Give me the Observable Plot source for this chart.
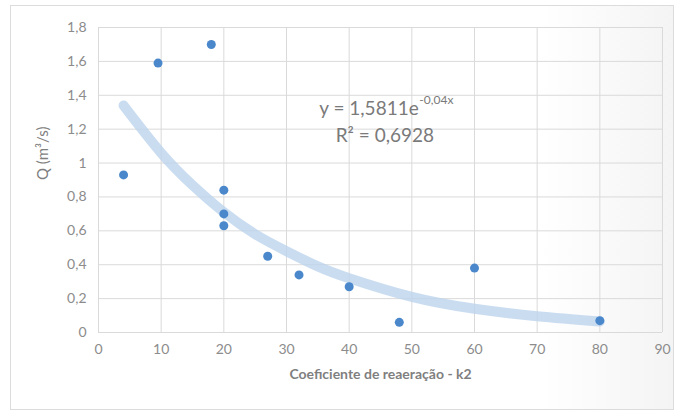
<!DOCTYPE html>
<html><head><meta charset="utf-8">
<script src="https://cdn.jsdelivr.net/npm/d3@7"></script>
<script src="https://cdn.jsdelivr.net/npm/@observablehq/plot@0.6"></script>
<style>
html,body{margin:0;padding:0;background:#fff;}
#wrap{position:relative;width:681px;height:414px;overflow:hidden;background:#fff;}
#frame{position:absolute;left:10px;top:5px;width:664px;height:405px;border:1px solid #dcdcdc;box-sizing:border-box;
 background:linear-gradient(90deg,#ffffff 0%,#ffffff 80%,#f4f4f4 100%);}
#chart{position:absolute;left:0;top:0;}
</style></head>
<body><div id="wrap"><div id="frame"></div><div id="chart"></div></div>
<script>
// Observed data points
const k2 = [4, 9.5, 18, 20, 20, 20, 27, 32, 40, 48, 60, 80];
const Q  = [0.93, 1.59, 1.70, 0.84, 0.70, 0.63, 0.45, 0.34, 0.27, 0.06, 0.38, 0.07];
// Trendline
const trendX = [4, 10, 15, 20, 25, 30, 35, 40, 50, 60, 70, 80];
const trendY = [1.34, 1.06, 0.87, 0.71, 0.58, 0.48, 0.39, 0.32, 0.21, 0.14, 0.096, 0.065];
// Axis ticks
const xTicks = [0, 10, 20, 30, 40, 50, 60, 70, 80, 90];
const yTicks = [0, 0.2, 0.4, 0.6, 0.8, 1, 1.2, 1.4, 1.6, 1.8];
const eqText = ["y = 1,5811e", "R² = 0,6928"];
const eqSup = "-0,04x";

const points = k2.map((x, i) => ({x, y: Q[i]}));
const trend = trendX.map((x, i) => ({x, y: trendY[i]}));
const fmt = v => String(v).replace(".", ",");

const font = "Lato, 'Open Sans', sans-serif";
const plot = Plot.plot({
  width: 681, height: 414,
  marginLeft: 98, marginRight: 19, marginTop: 27, marginBottom: 82,
  style: {fontFamily: font, fontSize: "14px", color: "#8c8c8c", background: "transparent"},
  x: {domain: [0, 90], ticks: xTicks, label: null},
  y: {domain: [0, 1.8], ticks: yTicks, label: null},
  marks: [
    Plot.gridX(xTicks, {stroke: "#dadada", strokeOpacity: 1}),
    Plot.gridY(yTicks, {stroke: "#dadada", strokeOpacity: 1}),
    Plot.axisX(xTicks, {tickSize: 0, tickPadding: 12, tickFormat: fmt, fill: "#8c8c8c", fontSize: 14}),
    Plot.axisY(yTicks, {tickSize: 0, tickPadding: 12, tickFormat: fmt, fill: "#8c8c8c", fontSize: 14}),
    Plot.line(trend, {x: "x", y: "y", curve: "natural", stroke: "#bcd3ec", strokeWidth: 10, strokeOpacity: 0.8, strokeLinecap: "round"}),
    Plot.dot(points, {x: "x", y: "y", r: 4.5, fill: "#4a88cb", stroke: "none"}),
    Plot.text([eqText[0]], {x: [51.1], y: [1.32], text: d => d, textAnchor: "end", fontSize: 19, fill: "#7a7a7a"}),
    Plot.text([eqSup], {x: [51.2], y: [1.37], text: d => d, textAnchor: "start", fontSize: 12, fill: "#7a7a7a"}),
    Plot.text([eqText[1]], {x: [45.7], y: [1.16], text: d => d, textAnchor: "middle", fontSize: 19, fill: "#7a7a7a"}),
    Plot.text(["Coeficiente de reaeração - k2"], {frameAnchor: "bottom", dy: 46, text: d => d, fontSize: 14, fontWeight: "bold", fill: "#7f7f7f"}),
    Plot.text(["Q (m³/s)"], {frameAnchor: "left", dx: -55, text: d => d, rotate: -90, fontSize: 15, fill: "#7f7f7f"})
  ]
});
document.getElementById("chart").appendChild(plot);
</script></body></html>
